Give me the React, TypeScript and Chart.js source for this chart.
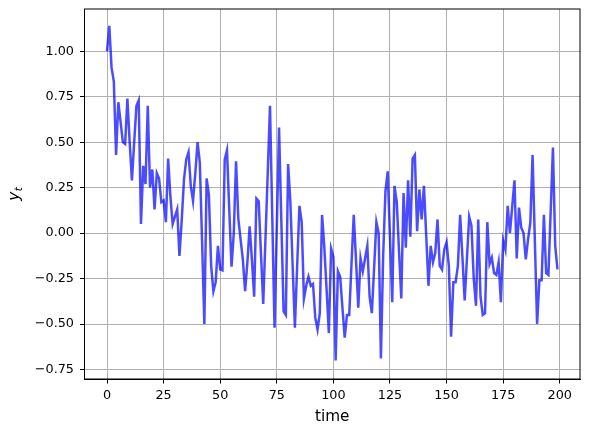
import React, { useEffect, useRef } from "react";
import { Chart, registerables } from "chart.js";

Chart.register(...registerables);

// y_t values for t = 0 .. 199
const yValues: number[] = [
  1.0, 1.14, 0.91, 0.835, 0.43, 0.72, 0.61, 0.5, 0.49, 0.74,
  0.5, 0.29, 0.5, 0.7, 0.73, 0.05, 0.37, 0.27, 0.7, 0.25,
  0.35, 0.13, 0.33, 0.3, 0.17, 0.18, 0.06, 0.41, 0.2, 0.05,
  0.09, 0.13, -0.125, 0.07, 0.295, 0.405, 0.445, 0.26, 0.176, 0.33,
  0.5, 0.386, -0.05, -0.5, 0.3, 0.21, -0.18, -0.32, -0.27, -0.07,
  -0.2, -0.205, 0.405, 0.456, 0.13, -0.185, 0.0, 0.395, 0.08, -0.035,
  -0.145, -0.32, -0.163, 0.037, -0.145, -0.35, 0.19, 0.175, -0.11, -0.39,
  -0.03, 0.33, 0.7, 0.09, -0.52, 0.03, 0.58, 0.07, -0.43, -0.45,
  0.38, 0.17, -0.18, -0.52, -0.18, 0.15, 0.06, -0.36, -0.29, -0.24,
  -0.29, -0.28, -0.465, -0.53, -0.44, 0.1, -0.08, -0.31, -0.55, -0.085,
  -0.13, -0.7, -0.21, -0.24, -0.41, -0.575, -0.45, -0.45, -0.17, 0.1,
  -0.15, -0.41, -0.14, -0.21, -0.14, -0.07, -0.35, -0.44, -0.19, 0.06,
  0.0, -0.69, -0.12, 0.23, 0.34, -0.02, -0.38, 0.26, 0.17, -0.1,
  -0.36, 0.22, -0.08, 0.29, -0.02, 0.41, 0.43, 0.01, 0.24, 0.075,
  0.26, -0.01, -0.29, -0.07, -0.16, -0.11, 0.075, -0.18, -0.2, -0.09,
  -0.05, -0.18, -0.57, -0.27, -0.27, -0.18, 0.1, -0.13, -0.37, -0.14,
  0.09, 0.04, -0.25, -0.4, 0.075, -0.35, -0.45, -0.44, 0.06, -0.17,
  -0.135, -0.22, -0.23, -0.16, -0.38, -0.04, -0.09, 0.15, 0.0, 0.145,
  0.29, -0.14, 0.14, 0.03, 0.0, -0.145, -0.035, 0.057, 0.43, -0.04,
  -0.5, -0.26, -0.26, 0.1, -0.22, -0.23, 0.12, 0.47, -0.07, -0.2,
];

const xTickValues: number[] = [0, 25, 50, 75, 100, 125, 150, 175, 200];
const yTickValues: number[] = [-0.75, -0.5, -0.25, 0, 0.25, 0.5, 0.75, 1.0];
const xTitle = "time";
const yTitleMain = "y";
const yTitleSub = "t";

const FONT = "'DejaVu Sans', 'Liberation Sans', sans-serif";

export default function App() {
  const ref = useRef<HTMLCanvasElement>(null);

  useEffect(() => {
    document.body.style.margin = "0";
    const canvas = ref.current;
    if (!canvas) return;

    const points = yValues.map((v, i) => ({ x: i, y: v }));

    const framePlugin = {
      id: "mplFrame",
      afterDraw(chart: any) {
        const { ctx, chartArea: a } = chart;
        ctx.save();
        ctx.strokeStyle = "#000";
        ctx.lineWidth = 1;
        ctx.strokeRect(a.left, a.top, a.right - a.left, a.bottom - a.top);

        ctx.fillStyle = "#000";
        ctx.font = `15.3px ${FONT}`;
        ctx.textAlign = "center";
        ctx.textBaseline = "alphabetic";
        ctx.fillText(xTitle, (a.left + a.right) / 2, 421);

        // y title: italic y with subscript t, rotated
        ctx.translate(19, (a.top + a.bottom) / 2);
        ctx.rotate(-Math.PI / 2);
        ctx.textAlign = "left";
        ctx.font = `italic 15.3px ${FONT}`;
        const wMain = ctx.measureText(yTitleMain).width;
        ctx.font = `italic 10.7px ${FONT}`;
        const wSub = ctx.measureText(yTitleSub).width;
        const total = wMain + wSub + 0.5;
        const x0 = -total / 2;
        ctx.font = `italic 15.3px ${FONT}`;
        ctx.fillText(yTitleMain, x0, 0);
        ctx.font = `italic 10.7px ${FONT}`;
        ctx.fillText(yTitleSub, x0 + wMain + 0.5, 2.5);
        ctx.restore();
      },
    };

    const chart = new Chart(canvas, {
      type: "line",
      data: {
        datasets: [
          {
            data: points,
            borderColor: "rgba(0,0,255,0.7)",
            borderWidth: 2.5,
            pointRadius: 0,
            tension: 0,
            fill: false,
          },
        ],
      },
      options: {
        animation: false,
        responsive: false,
        devicePixelRatio: 1,
        layout: { padding: { top: 9, right: 9, left: 0, bottom: 0 } },
        plugins: {
          legend: { display: false },
          tooltip: { enabled: false },
        },
        scales: {
          x: {
            type: "linear",
            min: -9.95,
            max: 208.95,
            afterBuildTicks: (axis: any) => {
              axis.ticks = xTickValues.map((v) => ({ value: v }));
            },
            afterFit: (s: any) => {
              s.height = 54;
              s.paddingLeft = 0;
              s.paddingRight = 0;
            },
            ticks: {
              autoSkip: false,
              maxRotation: 0,
              color: "#000",
              padding: 4,
              font: { family: FONT, size: 12.8 },
              callback: (v: any) => String(v),
            },
            grid: {
              color: "#b0b0b0",
              lineWidth: 1,
              tickLength: 4.5,
              tickColor: "#000",
              tickWidth: 1,
            },
            border: { color: "#000", width: 1 },
          },
          y: {
            type: "linear",
            min: -0.8025,
            max: 1.2325,
            afterBuildTicks: (axis: any) => {
              axis.ticks = yTickValues.map((v) => ({ value: v }));
            },
            afterFit: (s: any) => {
              s.width = 84.5;
              s.paddingTop = 0;
              s.paddingBottom = 0;
            },
            ticks: {
              color: "#000",
              padding: 6,
              font: { family: FONT, size: 12.8 },
              callback: (v: any) => {
                const n = Number(v);
                return (n < 0 ? "\u2212" : "") + Math.abs(n).toFixed(2);
              },
            },
            grid: {
              color: "#b0b0b0",
              lineWidth: 1,
              tickLength: 4.5,
              tickColor: "#000",
              tickWidth: 1,
            },
            border: { color: "#000", width: 1 },
          },
        },
      },
      plugins: [framePlugin],
    } as any);

    return () => chart.destroy();
  }, []);

  return (
    <div style={{ position: "absolute", left: 0, top: 0, width: 589, height: 433, background: "#fff" }}>
      <canvas ref={ref} width={589} height={433} style={{ width: 589, height: 433, display: "block" }} />
    </div>
  );
}
